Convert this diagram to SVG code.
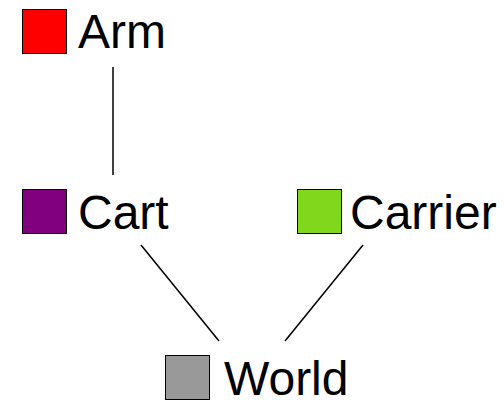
<svg xmlns="http://www.w3.org/2000/svg" width="504" height="404" viewBox="0 0 504 404">
  <style>
    .box { stroke: #000; stroke-width: 1; }
    .label { font-family: "Liberation Sans", Arial, sans-serif; font-size: 48px; fill: #000; }
    .edge { stroke: #000; stroke-width: 1.5; fill: none; }
  </style>
  <rect width="504" height="404" fill="#fff"/>
  <g id="edges">
    <line class="edge" x1="113" y1="67" x2="113" y2="175"/>
    <line class="edge" x1="141" y1="245" x2="219" y2="341"/>
    <line class="edge" x1="363" y1="245" x2="285" y2="341"/>
  </g>
  <g id="arm">
    <rect class="box" x="22.5" y="9.5" width="44" height="44" fill="#ff0000"/>
    <text class="label" x="78" y="48">Arm</text>
  </g>
  <g id="cart">
    <rect class="box" x="22.5" y="189.5" width="44" height="44" fill="#800080"/>
    <text class="label" x="78" y="229">Cart</text>
  </g>
  <g id="carrier">
    <rect class="box" x="297.5" y="189.5" width="44" height="44" fill="#80d71b"/>
    <text class="label" x="350" y="229">Carrier</text>
  </g>
  <g id="world">
    <rect class="box" x="165.5" y="355.5" width="44" height="44" fill="#999999"/>
    <text class="label" x="224" y="395">World</text>
  </g>
</svg>
